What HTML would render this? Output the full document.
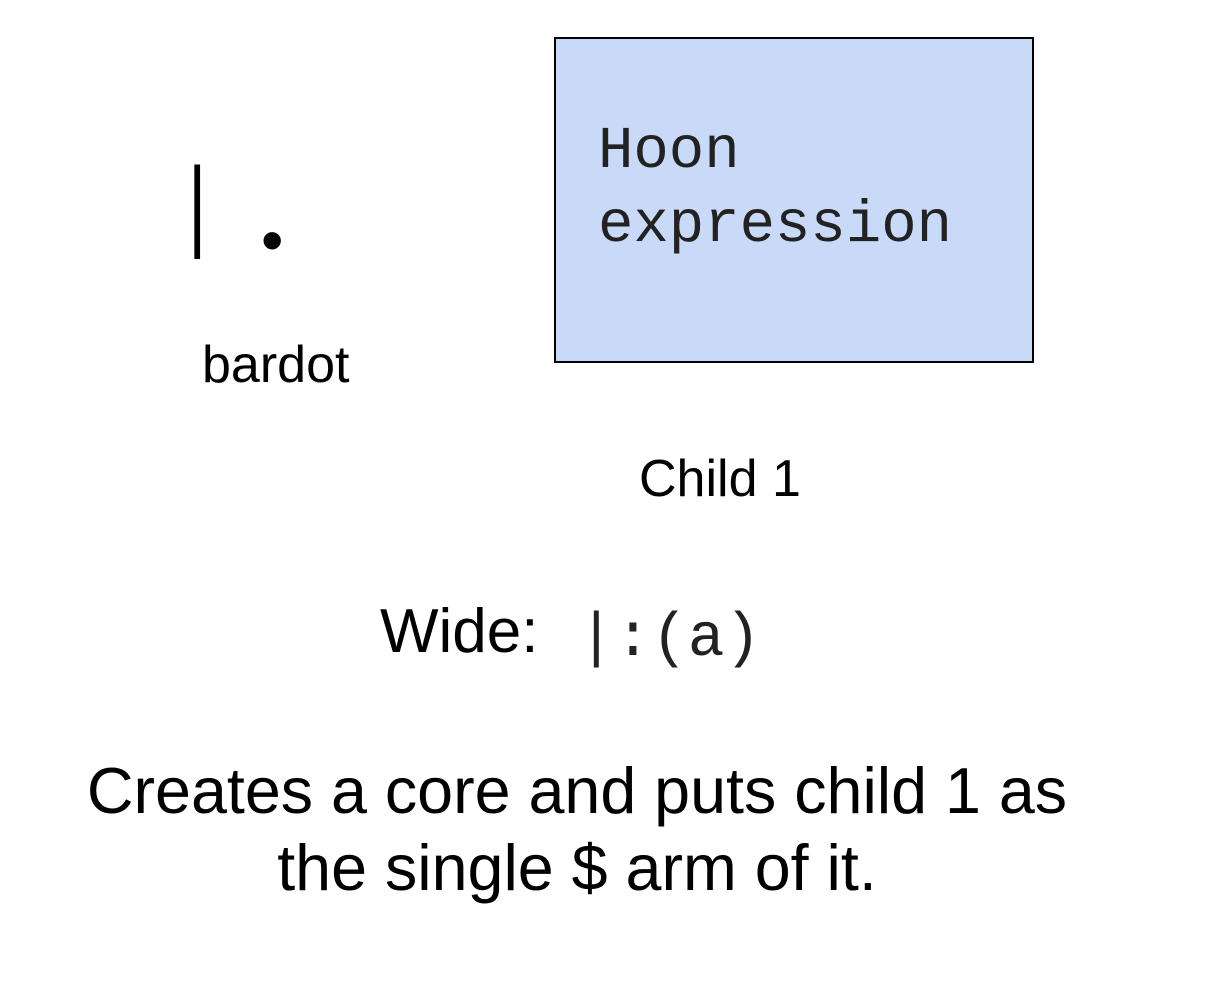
<!DOCTYPE html>
<html><head><meta charset="utf-8"><style>
body{margin:0;width:1218px;height:996px;background:#fff;position:relative;overflow:hidden;font-family:"Liberation Sans",sans-serif;color:#000}
.a{position:absolute;white-space:nowrap;line-height:1}
.m{font-family:"Liberation Mono",monospace}
</style></head><body>
<div class="a m" style="left:167px;top:162px;font-size:101px;transform:scaleX(0.7);transform-origin:30px 0">|</div>
<div class="a" style="left:261px;top:208px;font-size:64px">•</div>
<div style="position:absolute;left:554px;top:37px;width:476px;height:322px;background:#c9daf8;border:2px solid #000"></div>
<div class="a m" style="left:598px;top:122px;font-size:59px;color:#222">Hoon</div>
<div class="a m" style="left:598px;top:196px;font-size:59px;color:#222">expression</div>
<div class="a" style="left:202px;top:339px;font-size:52px">bardot</div>
<div class="a" style="left:639px;top:453px;font-size:52px">Child 1</div>
<div class="a" style="left:380px;top:601px;font-size:62px">Wide:</div>
<div class="a m" style="left:578px;top:609px;font-size:61px;color:#222">|:(a)</div>
<div class="a" style="left:0;width:1154px;text-align:center;top:753px;font-size:64.6px;line-height:77px">Creates a core and puts child 1 as<br>the single $ arm of it.</div>
</body></html>
